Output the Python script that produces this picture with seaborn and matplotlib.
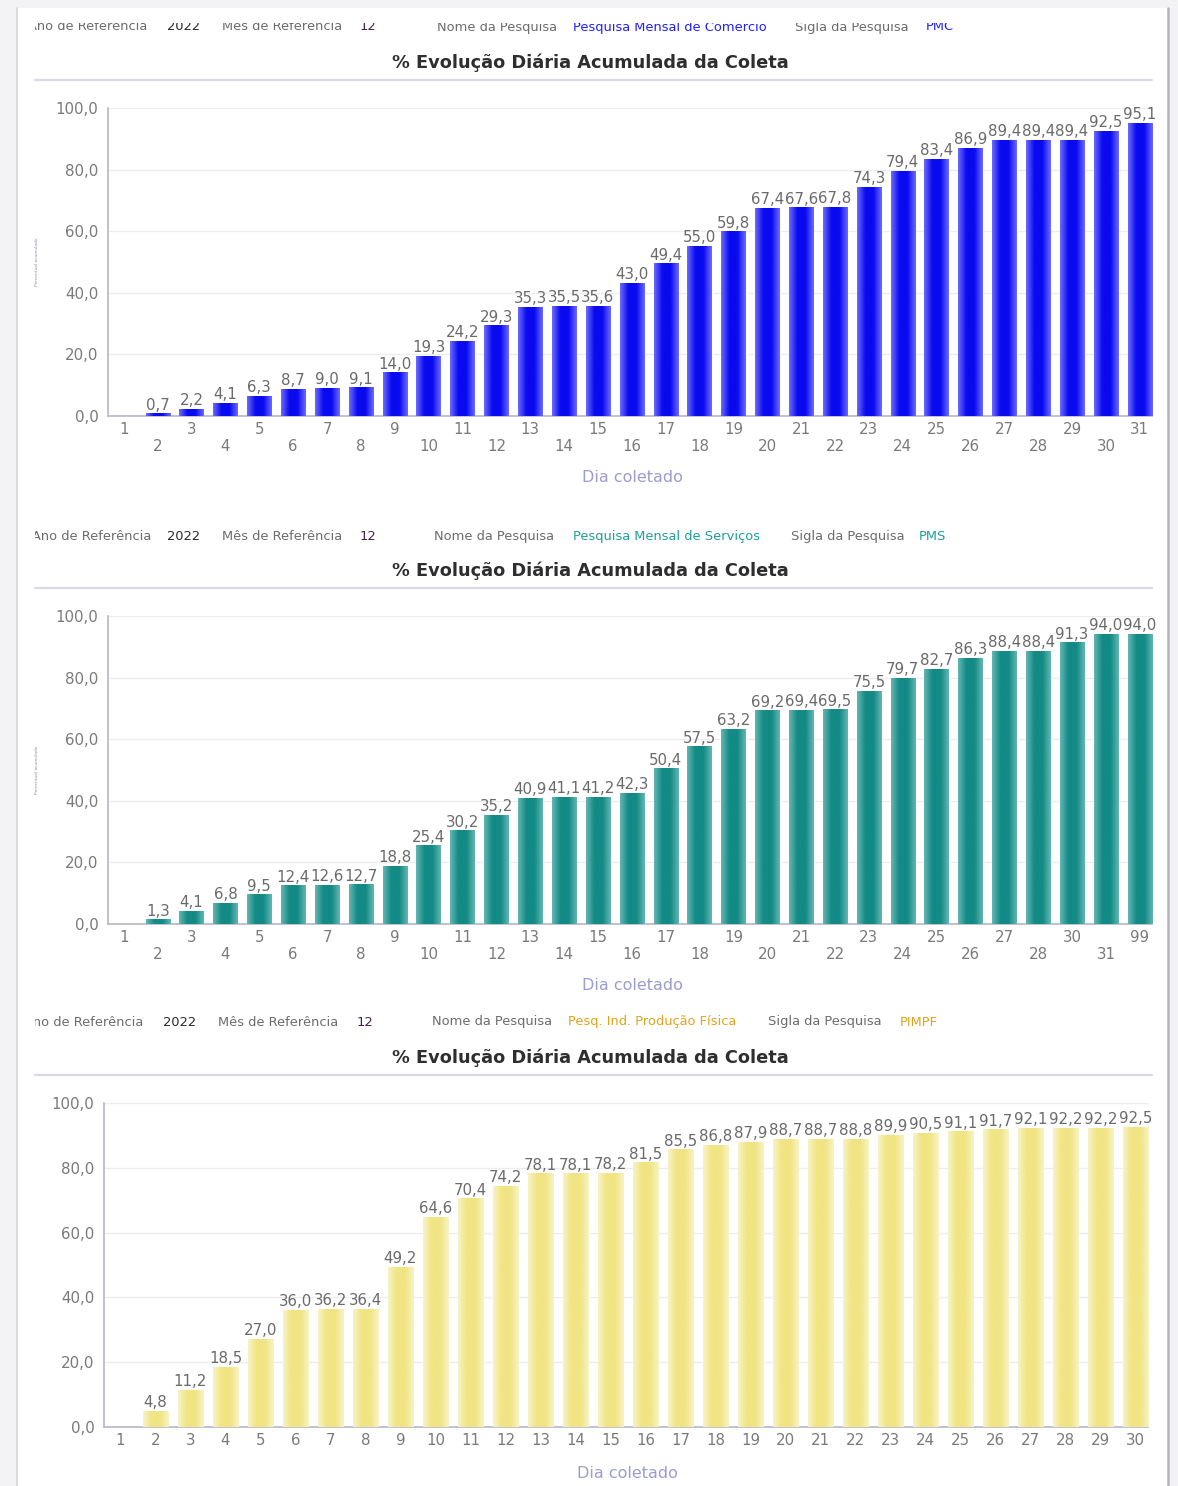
import numpy as np
import pandas as pd
import matplotlib.pyplot as plt
import seaborn as sns
from matplotlib.colors import LinearSegmentedColormap
from matplotlib.lines import Line2D
from matplotlib.patches import Rectangle

pmc_dias = [str(d) for d in range(1, 32)]
pmc_valores = [np.nan, 0.7, 2.2, 4.1, 6.3, 8.7, 9.0, 9.1, 14.0, 19.3, 24.2, 29.3,
               35.3, 35.5, 35.6, 43.0, 49.4, 55.0, 59.8, 67.4, 67.6, 67.8, 74.3,
               79.4, 83.4, 86.9, 89.4, 89.4, 89.4, 92.5, 95.1]

pms_dias = [str(d) for d in range(1, 29)] + ['30', '31', '99']
pms_valores = [np.nan, 1.3, 4.1, 6.8, 9.5, 12.4, 12.6, 12.7, 18.8, 25.4, 30.2, 35.2,
               40.9, 41.1, 41.2, 42.3, 50.4, 57.5, 63.2, 69.2, 69.4, 69.5, 75.5,
               79.7, 82.7, 86.3, 88.4, 88.4, 91.3, 94.0, 94.0]

pimpf_dias = [str(d) for d in range(1, 31)]
pimpf_valores = [np.nan, 4.8, 11.2, 18.5, 27.0, 36.0, 36.2, 36.4, 49.2, 64.6, 70.4,
                 74.2, 78.1, 78.1, 78.2, 81.5, 85.5, 86.8, 87.9, 88.7, 88.7, 88.8,
                 89.9, 90.5, 91.1, 91.7, 92.1, 92.2, 92.2, 92.5]

ano_ref = '2022'
mes_ref = '12'
nomes = ['Pesquisa Mensal de Comércio', 'Pesquisa Mensal de Serviços', 'Pesq. Ind. Produção Física']
siglas = ['PMC', 'PMS', 'PIMPF']
titulo = '% Evolução Diária Acumulada da Coleta'

W, H = 1178, 1486


def fx(x):
    return x / W


def fy(y):
    return 1 - y / H


sns.set_theme(style='white')
plt.rcParams['font.family'] = ['DejaVu Sans']

fig = plt.figure(figsize=(W / 100, H / 100), dpi=100)
fig.patch.set_facecolor('#f3f3f6')
fig.add_artist(Rectangle((fx(17), 0), fx(1168) - fx(17), fy(8), transform=fig.transFigure,
                         facecolor='white', edgecolor='none', zorder=-5))
fig.add_artist(Line2D([fx(17), fx(17)], [0, fy(8)], color='#d4d4da', lw=1.2))
fig.add_artist(Line2D([fx(1168), fx(1168)], [0, fy(8)], color='#b4b4bc', lw=1.8))


def cabecalho(y, xs, nome, sigla, cor_nome, topo_clip):
    hax = fig.add_axes([fx(35), fy(y + 12), fx(1160) - fx(35), (y + 12 - topo_clip) / H])
    hax.axis('off')
    cinza = '#6c6c6c'
    partes = [('Ano de Referência', cinza), (ano_ref, '#2a2a2a'),
              ('Mês de Referência', cinza), (mes_ref, '#4a1f44'),
              ('Nome da Pesquisa', cinza), (nome, cor_nome),
              ('Sigla da Pesquisa', cinza), (sigla, cor_nome)]
    for (txt, c), x in zip(partes, xs):
        hax.text(fx(x), fy(y), txt, transform=fig.transFigure, fontsize=9.4,
                 color=c, va='center', ha='left', clip_on=True)


def painel(y_top, y_bot, x_left, x_right, dias, valores, cor_esc, cor_clara,
           escalonado, y_titulo):
    fig.text(fx(590), fy(y_titulo), titulo, ha='center', va='center',
             fontsize=12.8, fontweight='bold', color='#2e2e2e')
    fig.add_artist(Line2D([fx(35), fx(1152)], [fy(y_titulo + 17)] * 2,
                          color='#dadae6', lw=1.6))

    ax = fig.add_axes([fx(x_left), fy(y_bot), fx(x_right) - fx(x_left), (y_bot - y_top) / H])
    df = pd.DataFrame({'dia': dias, 'valor': valores})
    sns.barplot(data=df, x='dia', y='valor', order=dias, color=cor_esc, width=0.72,
                errorbar=None, saturation=1, ax=ax, zorder=2)

    # sombreamento horizontal de cada barra
    cmap = LinearSegmentedColormap.from_list('g', [cor_clara, cor_esc, cor_esc, cor_clara])
    grad = np.linspace(0, 1, 40).reshape(1, -1)
    n = len(dias)
    for p in list(ax.patches):
        h = p.get_height()
        if np.isnan(h) or h == 0:
            continue
        x0 = p.get_x()
        x1 = x0 + p.get_width()
        ax.imshow(grad, extent=(x0, x1, 0, h), cmap=cmap, aspect='auto',
                  interpolation='bicubic', zorder=3)
        ax.text((x0 + x1) / 2, h + 0.4, f'{h:.1f}'.replace('.', ','), ha='center',
                va='bottom', fontsize=10.8, color='#6a6a6a', zorder=4, clip_on=False)

    ax.set_xlim(-0.47, n - 1 + 0.36)
    ax.set_ylim(0, 100)
    ax.set_yticks(np.arange(0, 101, 20))
    ax.set_yticklabels([f'{v:.1f}'.replace('.', ',') for v in np.arange(0, 101, 20)])
    ax.set_xticks(range(n))
    if escalonado:
        ax.set_xticklabels([d if i % 2 == 0 else '\n' + d for i, d in enumerate(dias)])
    else:
        ax.set_xticklabels(dias)
    ax.tick_params(axis='both', length=0, labelsize=10.8, labelcolor='#7a7a7a')
    ax.tick_params(axis='x', pad=4)
    ax.tick_params(axis='y', pad=7)
    ax.set_xlabel('')
    ax.set_ylabel('')
    ax.grid(axis='y', color='#ececf2', lw=1)
    ax.set_axisbelow(True)
    for s in ['top', 'right']:
        ax.spines[s].set_visible(False)
    for s in ['left', 'bottom']:
        ax.spines[s].set_color('#b6b6cc')
        ax.spines[s].set_linewidth(1.2)
    return ax


# PMC
cabecalho(27, [28, 167, 222, 360, 437, 573, 795, 926], nomes[0], siglas[0], '#2020ff', 23)
painel(108, 416, 108, 1152, pmc_dias, pmc_valores, '#0a0af0', '#6a6aff', True, 63)
fig.text(fx(632), fy(478), 'Dia coletado', ha='center', va='center', fontsize=11.5, color='#9c9cd0')
fig.text(fx(37), fy(262), 'Percentual acumulado', rotation=90, ha='center', va='center',
         fontsize=3.2, color='#8c8cb8')

# PMS
cabecalho(536, [32, 167, 222, 360, 434, 573, 791, 919], nomes[1], siglas[1], '#1f9e9a', 524)
painel(616, 924, 108, 1152, pms_dias, pms_valores, '#138a85', '#62b6b2', True, 571)
fig.text(fx(632), fy(986), 'Dia coletado', ha='center', va='center', fontsize=11.5, color='#9c9cd0')
fig.text(fx(37), fy(770), 'Percentual acumulado', rotation=90, ha='center', va='center',
         fontsize=3.2, color='#8c8cb8')

# PIMPF
cabecalho(1022, [24, 163, 218, 357, 432, 568, 768, 900], nomes[2], siglas[2], '#e0a41c', 1010)
painel(1103, 1427, 104, 1148, pimpf_dias, pimpf_valores, '#f0e483', '#f8f3c4', False, 1058)
fig.text(fx(627), fy(1474), 'Dia coletado', ha='center', va='center', fontsize=11.5, color='#9c9cd0')

fig.savefig('out.png', dpi=100, facecolor=fig.get_facecolor())
